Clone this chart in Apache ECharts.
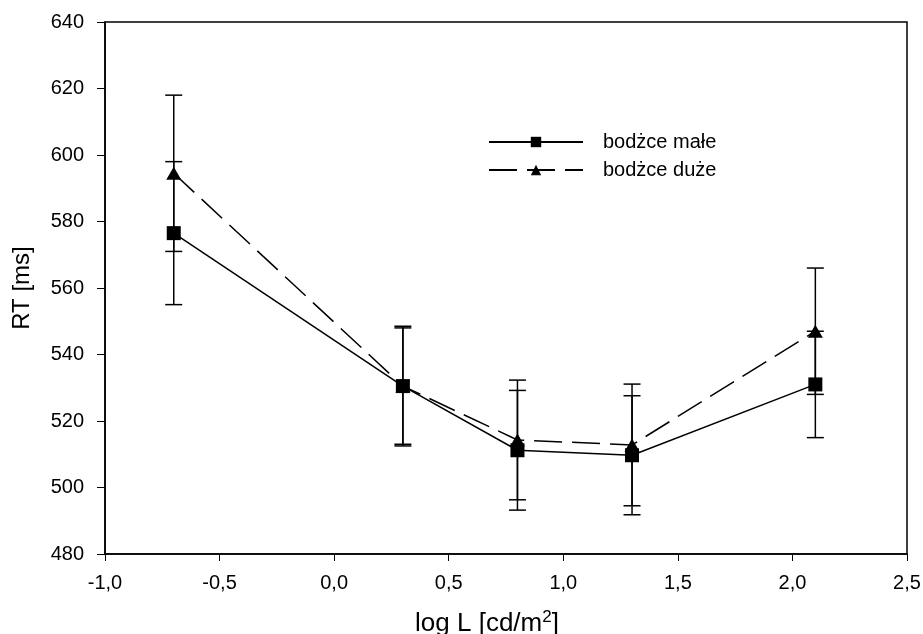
<!DOCTYPE html>
<html>
<head>
<meta charset="utf-8">
<script src="https://cdn.jsdelivr.net/npm/echarts@6/dist/echarts.min.js"></script>
<style>
  html, body { margin: 0; padding: 0; background: #fff; }
  #chart { width: 923px; height: 634px; }
</style>
</head>
<body>
<div id="chart"></div>
<script>
// Luminance levels (log L) and mean reaction times with standard error
const logL = [-0.7, 0.3, 0.8, 1.3, 2.1];
const rtSmall = [576.5, 530.5, 511.2, 509.7, 531.0];
const errSmall = [21.5, 18.0, 18.0, 17.9, 16.0];
const rtLarge = [594.5, 530.5, 514.3, 512.8, 547.0];
const errLarge = [23.5, 17.5, 18.0, 18.3, 19.0];
const nameSmall = 'bodżce małe';
const nameLarge = 'bodżce duże';

const FONT = 'Liberation Sans, Arial, sans-serif';

function pairs(xs, ys) { return xs.map((x, i) => [x, ys[i]]); }
function errRows(xs, ys, es) { return xs.map((x, i) => [x, ys[i] - es[i], ys[i] + es[i]]); }

// Vertical error bar with caps, drawn through the axis scales
function renderErr(params, api) {
  const x = api.value(0);
  const lo = api.coord([x, api.value(1)]);
  const hi = api.coord([x, api.value(2)]);
  const half = 8.5;
  const style = { stroke: '#000', lineWidth: 1.5 };
  return {
    type: 'group',
    children: [
      { type: 'line', shape: { x1: lo[0], y1: lo[1], x2: hi[0], y2: hi[1] }, style },
      { type: 'line', shape: { x1: lo[0] - half, y1: lo[1], x2: lo[0] + half, y2: lo[1] }, style },
      { type: 'line', shape: { x1: hi[0] - half, y1: hi[1], x2: hi[0] + half, y2: hi[1] }, style }
    ]
  };
}

const chart = echarts.init(document.getElementById('chart'), null, { renderer: 'canvas' });
chart.setOption({
  animation: false,
  backgroundColor: '#fff',
  grid: {
    left: 105, right: 16, top: 22, bottom: 80,
    outerBoundsMode: 'none', containLabel: false,
    show: true, borderColor: '#000', borderWidth: 1.5, backgroundColor: 'transparent'
  },
  legend: {
    data: [nameSmall, nameLarge],
    orient: 'vertical',
    left: 483,
    top: 127,
    itemWidth: 94,
    itemHeight: 13,
    itemGap: 8,
    textStyle: { fontFamily: FONT, fontSize: 20, color: '#000', padding: [0, 0, 0, 15] }
  },
  xAxis: {
    type: 'value',
    min: -1, max: 2.5, interval: 0.5,
    name: 'log L [cd/m{sup|2}]',
    nameLocation: 'middle',
    nameGap: 55,
    nameTextStyle: {
      fontFamily: FONT, fontSize: 26, color: '#000', padding: [0, 38, 0, 0],
      rich: { sup: { fontFamily: FONT, fontSize: 17, color: '#000', verticalAlign: 'top', padding: [0, 0, 12, 0] } }
    },
    axisLine: { onZero: false, lineStyle: { color: '#000', width: 1.5 } },
    axisTick: { inside: false, length: 7, lineStyle: { color: '#000', width: 1 } },
    axisLabel: { fontFamily: FONT, fontSize: 20, color: '#000', margin: 19, formatter: v => v.toFixed(1).replace('.', ',') },
    splitLine: { show: false }
  },
  yAxis: {
    type: 'value',
    min: 480, max: 640, interval: 20,
    name: 'RT [ms]',
    nameLocation: 'middle',
    nameGap: 71,
    nameTextStyle: { fontFamily: FONT, fontSize: 24, color: '#000' },
    axisLine: { onZero: false, lineStyle: { color: '#000', width: 1.5 } },
    axisTick: { inside: false, length: 8, lineStyle: { color: '#000', width: 1 } },
    axisLabel: { fontFamily: FONT, fontSize: 20, color: '#000', margin: 21 },
    splitLine: { show: false }
  },
  series: [
    { type: 'custom', name: 'errSmall', renderItem: renderErr, data: errRows(logL, rtSmall, errSmall), z: 1, silent: true },
    { type: 'custom', name: 'errLarge', renderItem: renderErr, data: errRows(logL, rtLarge, errLarge), z: 1, silent: true },
    {
      type: 'line', name: nameLarge, data: pairs(logL, rtLarge), z: 3,
      symbol: 'triangle', symbolSize: [15, 13], showAllSymbol: true,
      itemStyle: { color: '#000' },
      lineStyle: { color: '#000', width: 1.5, type: [28, 10] }
    },
    {
      type: 'line', name: nameSmall, data: pairs(logL, rtSmall), z: 4,
      symbol: 'rect', symbolSize: 14, showAllSymbol: true,
      itemStyle: { color: '#000' },
      lineStyle: { color: '#000', width: 1.5, type: 'solid' }
    }
  ]
});
</script>
</body>
</html>
